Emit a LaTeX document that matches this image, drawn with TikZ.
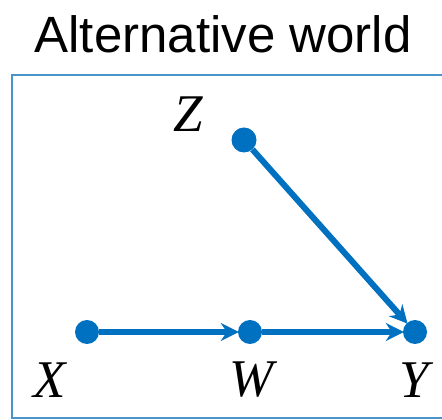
\documentclass[tikz,border=0pt]{standalone}
\usepackage{fontspec}
\setmainfont{Liberation Serif}
\newfontfamily\titlefont{Liberation Sans}
\usetikzlibrary{arrows.meta}
\definecolor{edgeblue}{HTML}{0070C0}
\definecolor{framebl}{HTML}{4A94CC}
\tikzset{
  x=1pt,y=1pt,
  dotnode/.style={circle,fill=edgeblue,inner sep=0pt,minimum size=24pt},
  varlabel/.style={font=\fontsize{53}{53}\selectfont\itshape,inner sep=0pt},
  edge/.style={draw=edgeblue,line width=6pt,-{Stealth[length=18pt,width=18pt,inset=6pt]},shorten >=-1pt}
}
\begin{document}
\begin{tikzpicture}
\useasboundingbox (0,0) rectangle (442,420);
\begin{scope}
\clip (0,0) rectangle (442,420);
\draw[framebl,line width=1.5pt] (12,2) rectangle (460,345);
\end{scope}
\node[font=\titlefont\fontsize{51}{51}\selectfont,inner sep=0pt] (title) at (223,386) {Alternative world};
\node[dotnode] (X) at (87,88) {};
\node[dotnode] (W) at (250,88) {};
\node[dotnode] (Y) at (415,88) {};
\node[dotnode,minimum size=25pt] (Z) at (244,280) {};
\node[varlabel] (lx) at (50,40) {X};
\node[varlabel] (lw) at (252,40) {W};
\node[varlabel] (ly) at (414,40) {Y};
\node[varlabel] (lz) at (188,306) {Z};
\draw[edge] (X) -- (W);
\draw[edge] (W) -- (Y);
\draw[edge] (Z) -- (Y);
\end{tikzpicture}
\end{document}
